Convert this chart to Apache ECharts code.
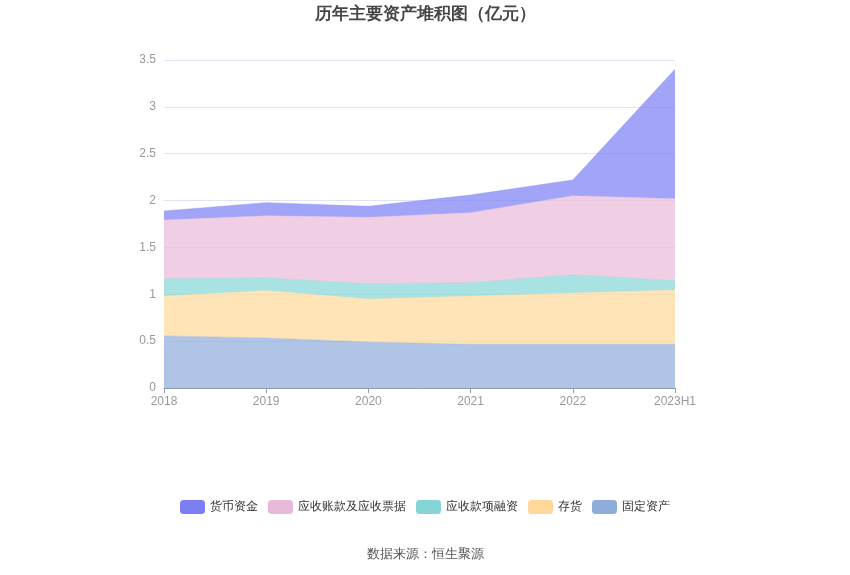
<!DOCTYPE html>
<html><head><meta charset="utf-8">
<script src="https://cdn.jsdelivr.net/npm/echarts@6/dist/echarts.min.js"></script>
<style>html,body{margin:0;padding:0;background:#fff}#c{width:850px;height:575px}</style>
</head><body><div id="c"></div>
<script>
const categories = ['2018','2019','2020','2021','2022','2023H1'];
const fixedAssets = [0.556, 0.534, 0.490, 0.466, 0.466, 0.466];
const inventory = [0.426, 0.506, 0.460, 0.516, 0.548, 0.580];
const receivablesFinancing = [0.185, 0.134, 0.163, 0.142, 0.195, 0.099];
const receivables = [0.626, 0.665, 0.709, 0.747, 0.843, 0.875];
const cash = [0.096, 0.139, 0.117, 0.189, 0.168, 1.381];
const yTicks = [0, 0.5, 1, 1.5, 2, 2.5, 3, 3.5];

const names = ['货币资金','应收账款及应收票据','应收款项融资','存货','固定资产'];
const colors = {'货币资金':'#7b7ff3','应收账款及应收票据':'#e9b9d9','应收款项融资':'#85d5d6','存货':'#fdd898','固定资产':'#8eaddc'};
const stackOrder = [['固定资产',fixedAssets],['存货',inventory],['应收款项融资',receivablesFinancing],['应收账款及应收票据',receivables],['货币资金',cash]];

const chart = echarts.init(document.getElementById('c'));
chart.setOption({
  animation:false,
  title:{text:'历年主要资产堆积图（亿元）',left:'center',top:1,textStyle:{fontSize:17,fontWeight:'bold',color:'#464646'}},
  legend:{data:names,bottom:56,left:'center',itemWidth:25,itemHeight:14,itemGap:10,icon:'roundRect',textStyle:{color:'#333',fontSize:12}},
  graphic:[{type:'text',left:'center',top:548,style:{text:'数据来源：恒生聚源',fill:'#555',font:'13px sans-serif'}}],
  grid:{left:164,right:175,top:60,bottom:187},
  xAxis:{type:'category',boundaryGap:false,data:categories,
    axisLine:{lineStyle:{color:'#8e9bb0'}},axisTick:{show:true,lineStyle:{color:'#8e9bb0'}},
    axisLabel:{color:'#999',fontSize:12}},
  yAxis:{type:'value',min:yTicks[0],max:yTicks[yTicks.length-1],interval:0.5,
    axisLabel:{color:'#999',fontSize:12},splitLine:{lineStyle:{color:'#e0e6f1'}},axisLine:{show:false},axisTick:{show:false}},
  series: stackOrder.map(([n,d])=>({name:n,type:'line',stack:'total',data:d,symbol:'none',
    itemStyle:{color:colors[n]},lineStyle:{width:0.5,color:colors[n],opacity:0.7},
    areaStyle:{color:colors[n],opacity:0.7}}))
});
</script></body></html>
